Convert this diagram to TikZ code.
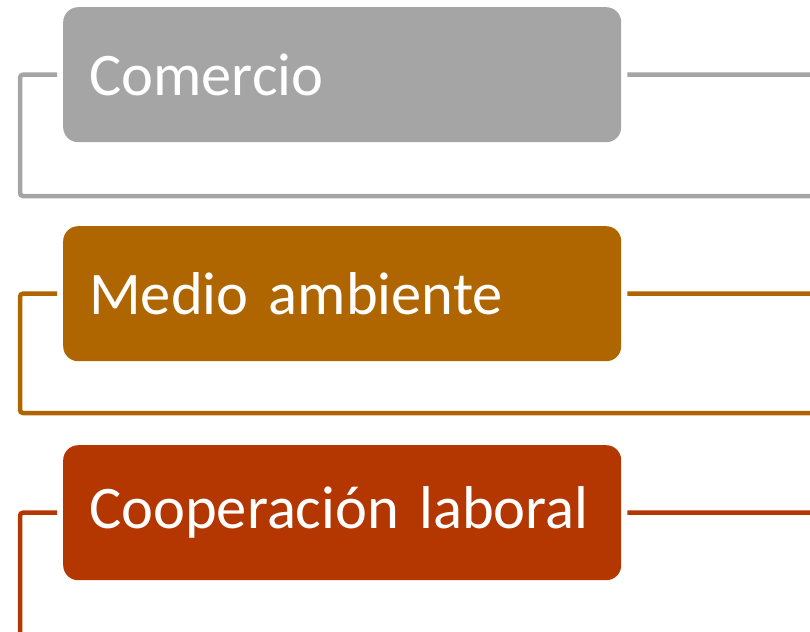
\documentclass[tikz,border=0pt]{standalone}
\usepackage{fontspec}
\setmainfont{Carlito}
\definecolor{cgray}{HTML}{A5A5A5}
\definecolor{corange}{HTML}{AF6500}
\definecolor{cred}{HTML}{B43600}
\begin{document}
\begin{tikzpicture}[x=1pt,y=-1pt,
  box/.style={draw=none,fill=#1,rounded corners=15pt,anchor=north west,minimum width=558pt,minimum height=135pt,
    text width=506pt,align=left,inner xsep=26pt,inner ysep=0pt,text=white,font=\fontsize{60.5}{62}\selectfont},
  link/.style={draw=#1,line width=4.5pt,rounded corners=3pt}]
\useasboundingbox (0,0) rectangle (810,631);
\node[box=cgray] (b1) at (63,7) {Comercio};
\node[box=corange] (b2) at (63,226) {Medio ambiente};
\node[box=cred] (b3) at (63,445) {Cooperación laboral};
\foreach \b/\c/\y in {b1/cgray/74.5,b2/corange/293.5,b3/cred/512.5}{
  \coordinate (\b-l) at ([xshift=-6pt]\b.west);
  \coordinate (\b-r) at ([xshift=6pt]\b.east);
  \coordinate (\b-e) at (812,\y);
  \draw[link=\c] (\b-r) -- (\b-e);
}
\coordinate (b1-f) at (812,196);
\coordinate (b2-f) at (812,413);
\coordinate (b3-f) at (20,640);
\draw[link=cgray] (b1-l) -| (b1-f -| 20,0) |- (b1-f);
\draw[link=corange] (b2-l) -| (b2-f -| 20,0) |- (b2-f);
\draw[link=cred] (b3-l) -| (b3-f);
\end{tikzpicture}
\end{document}
